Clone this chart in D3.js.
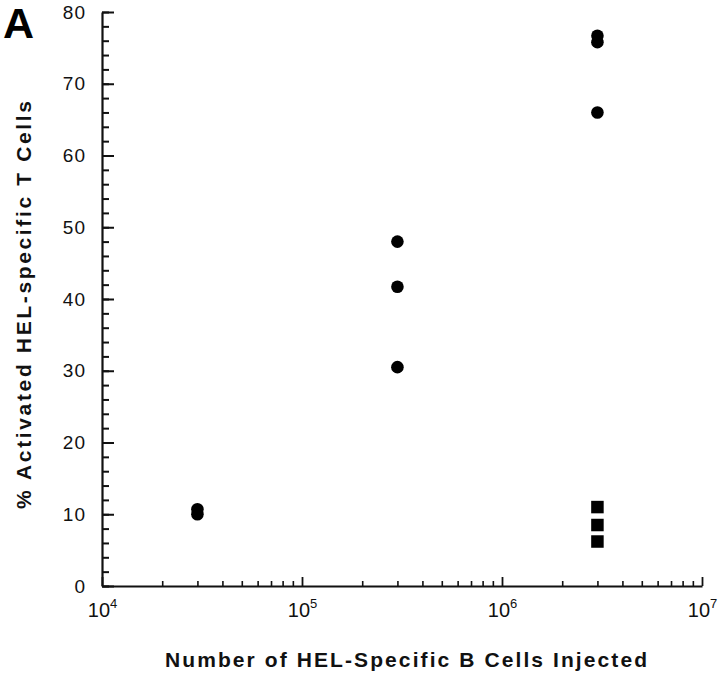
<!DOCTYPE html>
<html>
<head>
<meta charset="utf-8">
<script src="https://cdn.jsdelivr.net/npm/d3@7/dist/d3.min.js"></script>
<style>
  html, body { margin: 0; padding: 0; background: #fff; }
  svg { display: block; font-family: "Liberation Sans", Arial, Helvetica, sans-serif; }
</style>
</head>
<body>
<svg id="chart" width="720" height="674"></svg>
<script>
// ---- data ----
const circleX = [3e4, 3e4, 3e5, 3e5, 3e5, 3e6, 3e6, 3e6];
const circleY = [10.7, 10.0, 48.0, 41.7, 30.5, 76.7, 75.8, 66.0];
const squareX = [3e6, 3e6, 3e6];
const squareY = [11.0, 8.5, 6.2];
const yMajorTicks = [0, 10, 20, 30, 40, 50, 60, 70, 80];
const yMinorTicks = d3.range(0, 81, 2);
const xMajorTicks = [1e4, 1e5, 1e6, 1e7];
const xExponents = ["4", "5", "6", "7"];
const xTitle = "Number of HEL-Specific B Cells Injected";
const yTitle = "% Activated HEL-specific T Cells";
const panelLabel = "A";

// ---- layout ----
const svg = d3.select("#chart");
const x = d3.scaleLog().domain([1e4, 1e7]).range([102, 702]);
const y = d3.scaleLinear().domain([0, 80]).range([586, 12]);

const xMinorTicks = [];
[1e4, 1e5, 1e6].forEach(d => { for (let k = 2; k <= 9; k++) xMinorTicks.push(d * k); });

// y minor ticks
svg.append("g").attr("transform", "translate(102,0)")
  .call(d3.axisLeft(y).tickValues(yMinorTicks).tickSize(-7).tickSizeOuter(0).tickFormat(""))
  .call(g => g.selectAll("line").attr("stroke", "#111").attr("stroke-width", 2))
  .call(g => g.select(".domain").attr("stroke", "#111").attr("stroke-width", 2.2));

// y major ticks
svg.append("g").attr("transform", "translate(102,0)")
  .call(d3.axisLeft(y).tickValues(yMajorTicks).tickSize(-12).tickSizeOuter(0).tickPadding(16))
  .call(g => g.select(".domain").remove())
  .call(g => g.selectAll("line").attr("stroke", "#111").attr("stroke-width", 2))
  .call(g => g.selectAll("text").attr("font-size", 19).attr("fill", "#111")
    .attr("letter-spacing", 1)
    .attr("font-family", "'Liberation Sans', Arial, sans-serif"));

// x minor ticks
svg.append("g").attr("transform", "translate(0,586)")
  .call(d3.axisBottom(x).tickValues(xMinorTicks).tickSize(-5).tickSizeOuter(0).tickFormat(""))
  .call(g => g.selectAll("line").attr("stroke", "#111").attr("stroke-width", 1.6))
  .call(g => g.select(".domain").attr("stroke", "#111").attr("stroke-width", 2));

// x major ticks
const xg = svg.append("g").attr("transform", "translate(0,586)")
  .call(d3.axisBottom(x).tickValues(xMajorTicks).tickSize(-9).tickSizeOuter(0).tickPadding(18).tickFormat(""))
  .call(g => g.select(".domain").remove())
  .call(g => g.selectAll("line").attr("stroke", "#111").attr("stroke-width", 1.8));

xg.selectAll(".tick text").each(function(d, i) {
  const t = d3.select(this)
    .attr("y", 31).attr("dy", null)
    .attr("font-size", 20).attr("fill", "#111")
    .attr("font-family", "'Liberation Sans', Arial, sans-serif")
    .attr("text-anchor", "middle");
  t.text(null);
  t.append("tspan").text("10");
  t.append("tspan").attr("font-size", 13).attr("dy", -9).text(xExponents[i]);
});

// points
svg.append("g").selectAll("circle")
  .data(circleX.map((d, i) => [d, circleY[i]]))
  .join("circle")
  .attr("cx", d => x(d[0])).attr("cy", d => y(d[1]))
  .attr("r", 6.3).attr("fill", "#000");

const s = 12.5;
svg.append("g").selectAll("rect")
  .data(squareX.map((d, i) => [d, squareY[i]]))
  .join("rect")
  .attr("x", d => x(d[0]) - s / 2).attr("y", d => y(d[1]) - s / 2)
  .attr("width", s).attr("height", s).attr("fill", "#000");

// titles
svg.append("text")
  .attr("x", 406).attr("y", 667)
  .attr("text-anchor", "middle")
  .attr("font-size", 21).attr("font-weight", "bold").attr("fill", "#111")
  .attr("textLength", 482).attr("lengthAdjust", "spacing")
  .text(xTitle);

svg.append("text")
  .attr("transform", "translate(31,305) rotate(-90)")
  .attr("text-anchor", "middle")
  .attr("font-size", 21).attr("font-weight", "bold").attr("fill", "#111")
  .attr("textLength", 408).attr("lengthAdjust", "spacing")
  .text(yTitle);

svg.append("text")
  .attr("x", 3).attr("y", 38)
  .attr("font-size", 43).attr("font-weight", "bold").attr("fill", "#000")
  .text(panelLabel);
</script>
</body>
</html>
